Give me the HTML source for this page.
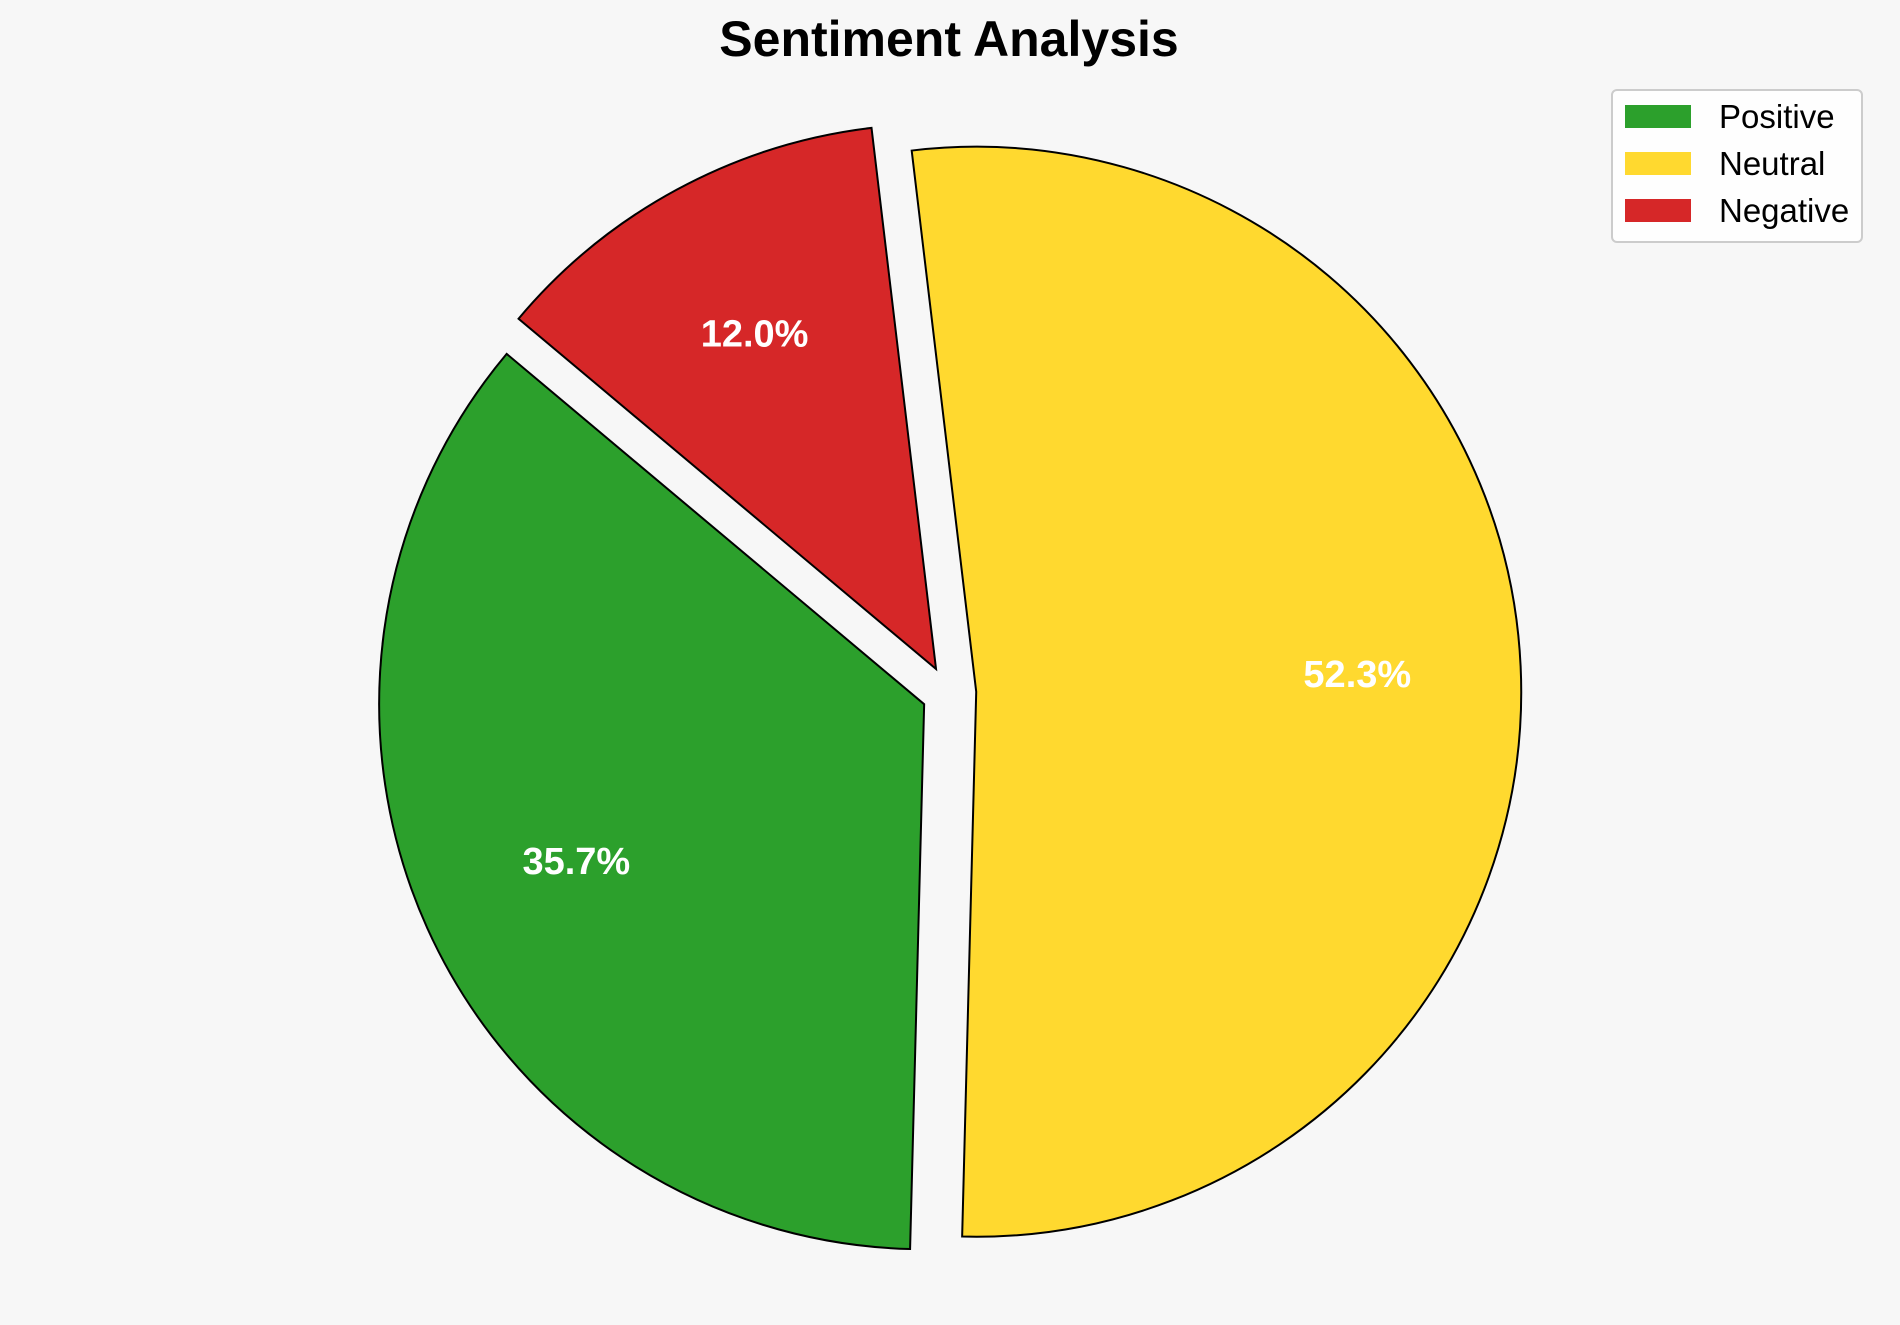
<!DOCTYPE html>
<html><head><meta charset="utf-8">
<style>
html,body{margin:0;padding:0;background:#f7f7f7;}
svg{display:block;font-family:"Liberation Sans",Arial,sans-serif;}
</style></head>
<body>
<svg id="chart" width="1900" height="1325" viewBox="0 0 1900 1325">
<rect x="0" y="0" width="1900" height="1325" fill="#f7f7f7"/>
<text x="949" y="56" text-anchor="middle" font-size="50" font-weight="bold" fill="#000">Sentiment Analysis</text>
<g id="slices"></g>
<g id="legend"></g>
</svg>
<script>
const categories = ["Positive", "Neutral", "Negative"];
const values = [35.7, 52.3, 12.0];
const colors = ["#2ca02c", "#ffd92f", "#d62728"];
const explode = [0.05, 0.05, 0.05];
const startAngle = 140;

const NS = "http://www.w3.org/2000/svg";
const cx = 949, cy = 693, r = 545, pctDist = 0.7;
const total = values.reduce((a, b) => a + b, 0);
const g = document.getElementById("slices");
let a0 = startAngle;
function pt(x, y, rad, deg) {
  const t = deg * Math.PI / 180;
  return [x + rad * Math.cos(t), y - rad * Math.sin(t)];
}
values.forEach((v, i) => {
  const sweep = v / total * 360;
  const a1 = a0 + sweep;
  const mid = (a0 + a1) / 2;
  const [ox, oy] = pt(cx, cy, explode[i] * r, mid);
  const [x0, y0] = pt(ox, oy, r, a0);
  const [x1, y1] = pt(ox, oy, r, a1);
  const large = sweep > 180 ? 1 : 0;
  const p = document.createElementNS(NS, "path");
  p.setAttribute("d", `M${ox},${oy} L${x0},${y0} A${r},${r} 0 ${large} 0 ${x1},${y1} Z`);
  p.setAttribute("fill", colors[i]);
  p.setAttribute("stroke", "#000");
  p.setAttribute("stroke-width", "2");
  
  
  g.appendChild(p);
  const [lx, ly] = pt(ox, oy, r * pctDist, mid);
  const t = document.createElementNS(NS, "text");
  t.setAttribute("x", lx);
  t.setAttribute("y", ly + 13);
  t.setAttribute("text-anchor", "middle");
  t.setAttribute("font-size", "38");
  t.setAttribute("font-weight", "bold");
  t.setAttribute("fill", "#fff");
  t.textContent = (v / total * 100).toFixed(1) + "%";
  
  
  g.appendChild(t);
  a0 = a1;
});

const lg = document.getElementById("legend");
const frame = document.createElementNS(NS, "rect");
frame.setAttribute("x", 1612); frame.setAttribute("y", 90);
frame.setAttribute("width", 250); frame.setAttribute("height", 152);
frame.setAttribute("rx", 5);
frame.setAttribute("fill", "#fff"); frame.setAttribute("fill-opacity", "0.8");
frame.setAttribute("stroke", "#ccc"); frame.setAttribute("stroke-width", "2");


lg.appendChild(frame);
categories.forEach((c, i) => {
  const y = 116 + i * 47;
  const sw = document.createElementNS(NS, "rect");
  sw.setAttribute("x", 1625); sw.setAttribute("y", y - 11);
  sw.setAttribute("width", 66); sw.setAttribute("height", 23);
  sw.setAttribute("fill", colors[i]);
  
  
  lg.appendChild(sw);
  const tx = document.createElementNS(NS, "text");
  tx.setAttribute("x", 1719); tx.setAttribute("y", y + 12);
  tx.setAttribute("font-size", "33");
  tx.setAttribute("fill", "#000");
  tx.textContent = c;
  
  
  lg.appendChild(tx);
});
</script>
</body></html>
